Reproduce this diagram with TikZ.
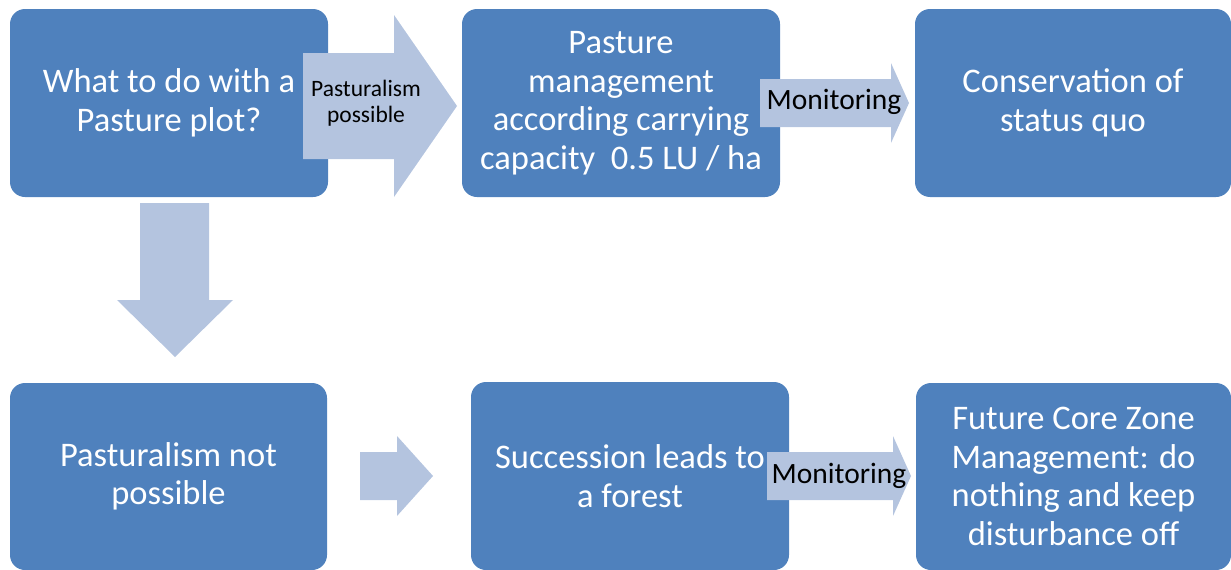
\documentclass[tikz,border=0pt]{standalone}
\usepackage{fontspec}
\setmainfont{Carlito}
\definecolor{boxblue}{RGB}{79,129,189}
\definecolor{arrowblue}{RGB}{180,196,223}
\tikzset{
  stepbox/.style={fill=boxblue, rounded corners=15pt, text=white, align=center,
    minimum width=318pt, minimum height=188pt, inner sep=0pt,
    font=\fontsize{34.5}{38.5}\selectfont},
  arrowtext/.style={text=black, align=center, inner sep=0pt},
}
% right block arrow: x0, x1 (head start), x2 (tip), y centre, shaft half, head half
\newcommand\rblock[6]{\fill[arrowblue] (#1,#4-#5) -- (#2,#4-#5) -- (#2,#4-#6) -- (#3,#4)
  -- (#2,#4+#6) -- (#2,#4+#5) -- (#1,#4+#5) -- cycle;}

\begin{document}
\begin{tikzpicture}[x=1pt,y=-1pt]
\useasboundingbox (0,0) rectangle (1231,570);

% boxes
\node[stepbox] (plot) at (169,103) {What to do with a\\Pasture plot?};
\node[stepbox] (manage) at (621,103) {Pasture\\management\\according carrying\\capacity~ 0.5 LU / ha};
\node[stepbox, minimum width=316pt] (conserve) at (1073,103) {Conservation of\\status quo};

\node[stepbox, minimum width=317pt, minimum height=187pt] (notposs) at (168.5,476.5) {Pasturalism not\\possible};
\node[stepbox, minimum height=188pt] (forest) at (630,476) {Succession leads to\\a forest};
\node[stepbox, minimum width=315pt, minimum height=187pt] (core) at (1073.5,476.5) {Future Core Zone\\Management: do\\nothing and keep\\disturbance off};

% arrows
\rblock{303}{394}{457}{106}{53}{91}
\node[arrowtext, font=\fontsize{23.5}{26}\selectfont] (possible) at (366,103) {Pasturalism\\possible};
\rblock{760}{891}{909}{103}{24}{40}
\node[arrowtext, font=\fontsize{29.5}{32}\selectfont] (mon1) at (834,102) {Monitoring};
\fill[arrowblue] (140,203) -- (209,203) -- (209,300) -- (233,300) -- (175,357)
  -- (117,300) -- (140,300) -- cycle;
\rblock{360}{397}{433}{476}{24}{40}
\rblock{767}{893}{911}{476}{24}{40}
\node[arrowtext, font=\fontsize{29.5}{32}\selectfont] (mon2) at (839,476) {Monitoring};
\end{tikzpicture}
\end{document}
